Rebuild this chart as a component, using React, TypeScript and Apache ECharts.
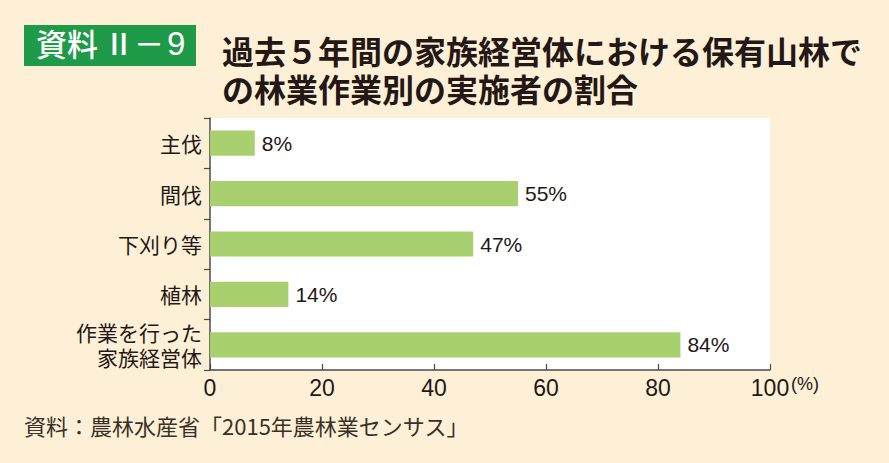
import React, { useEffect, useRef } from "react";
import * as echarts from "echarts";

const categories = ["主伐", "間伐", "下刈り等", "植林", "作業を行った\n家族経営体"];
const values = [8, 55, 47, 14, 84];
const xTicks = [0, 20, 40, 60, 80, 100];

const FONT = '"Noto Sans CJK JP", "Noto Sans", sans-serif';
const NUM = '"Liberation Sans", Arial, sans-serif';
const TEXT = "#231815";

export default function App() {
  const ref = useRef<HTMLDivElement>(null);
  useEffect(() => {
    if (!ref.current) return;
    const chart = echarts.init(ref.current, undefined, { renderer: "svg" });
    chart.setOption({
      animation: false,
      backgroundColor: "#FEF0D6",
      textStyle: { fontFamily: FONT },
      grid: { left: 210, top: 118, width: 560, height: 252, containLabel: false, show: true, backgroundColor: "#FFFFFF", borderWidth: 0 },
      xAxis: {
        type: "value",
        min: xTicks[0],
        max: xTicks[xTicks.length - 1],
        interval: 20,
        splitLine: { show: false },
        axisLine: { show: true, lineStyle: { color: "#4a4a4a", width: 1.5 } },
        axisTick: { show: true, inside: true, length: 6, lineStyle: { color: "#4a4a4a", width: 1.2 } },
        axisLabel: { fontSize: 23, color: TEXT, margin: 6, fontFamily: NUM },
      },
      yAxis: {
        type: "category",
        inverse: true,
        data: categories,
        axisLine: { show: true, lineStyle: { color: "#4a4a4a", width: 1.5 } },
        axisTick: { show: true, length: 6, lineStyle: { color: "#4a4a4a", width: 1.2 } },
        axisLabel: { fontSize: 21, color: TEXT, margin: 8, lineHeight: 25, align: "right", fontFamily: FONT },
      },
      series: [
        {
          type: "bar",
          data: values,
          barWidth: "50%",
          itemStyle: { color: "#A9D06E" },
          label: {
            show: true,
            position: "right",
            distance: 7,
            formatter: "{c}%",
            fontSize: 21,
            color: TEXT,
            fontFamily: NUM,
          },
        },
      ],
      graphic: [
        { type: "rect", left: 24, top: 25, shape: { width: 172, height: 41 }, style: { fill: "#1E9A48" } },
        { type: "text", left: 36, top: 27, style: { text: "資料", fill: "#FFFFFF", font: `500 31px ${FONT}` } },
        { type: "text", left: 104, top: 27, style: { text: "Ⅱ", fill: "#FFFFFF", font: `500 30px ${FONT}` } },
        { type: "text", left: 134, top: 27, style: { text: "－", fill: "#FFFFFF", font: `500 30px ${FONT}` } },
        { type: "text", left: 167, top: 27, style: { text: "9", fill: "#FFFFFF", font: `33px ${NUM}` } },
        {
          type: "text",
          left: 222,
          top: 31,
          style: {
            text: "過去５年間の家族経営体における保有山林で\nの林業作業別の実施者の割合",
            fill: TEXT,
            font: `bold 32px ${FONT}`,
            lineHeight: 38,
          },
        },
        { type: "text", left: 791, top: 375, style: { text: "(%)", fill: TEXT, font: `18px ${NUM}` } },
        { type: "text", left: 24, top: 414, style: { text: "資料：農林水産省「2015年農林業センサス」", fill: "#3a3028", font: `22px ${FONT}` } },
      ],
    });
    return () => chart.dispose();
  }, []);
  return <div ref={ref} style={{ position: "fixed", left: 0, top: 0, width: 889, height: 463 }} />;
}
